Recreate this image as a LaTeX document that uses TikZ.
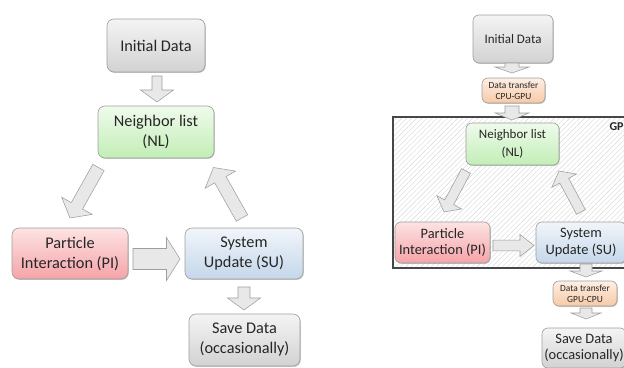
\documentclass[tikz,border=0pt]{standalone}
\usepackage{fontspec}
\setmainfont{Carlito}
\usetikzlibrary{calc,shadows,patterns.meta}
\definecolor{gtop}{HTML}{F4F4F4}\definecolor{gbot}{HTML}{D2D2D2}
\definecolor{ntop}{HTML}{EFFBEC}\definecolor{nbot}{HTML}{C2EEB6}
\definecolor{rtop}{HTML}{FDE3E3}\definecolor{rbot}{HTML}{F5A3A8}
\definecolor{btop}{HTML}{F1F5FA}\definecolor{bbot}{HTML}{C4D7EA}
\definecolor{otop}{HTML}{FDEFE4}\definecolor{obot}{HTML}{F7C9A6}
\definecolor{txt}{HTML}{262626}
\tikzset{
  box/.style={rectangle, rounded corners=7pt, draw=black!38, line width=0.6pt,
    align=center, inner sep=0pt, outer sep=0pt, text=txt,
    drop shadow={shadow xshift=0.8pt, shadow yshift=-0.9pt, opacity=0.22, fill=black}},
  graybox/.style={box, top color=gtop, bottom color=gbot},
  greenbox/.style={box, top color=ntop, bottom color=nbot},
  redbox/.style={box, top color=rtop, bottom color=rbot},
  bluebox/.style={box, top color=btop, bottom color=bbot},
  orangebox/.style={box, rounded corners=6pt, top color=otop, bottom color=obot},
  bigfont/.style={font=\fontsize{16.3}{20}\selectfont},
  midfont/.style={font=\fontsize{14.4}{16.8}\selectfont},
  smallfont/.style={font=\fontsize{13}{17.5}\selectfont},
  tinyfont/.style={font=\fontsize{9.4}{11}\selectfont},
  barrow/.style={fill=black!9, draw=black!38, line width=0.55pt, line join=miter},
  gpuframe/.style={rectangle, draw=black!72, line width=1.3pt,
    preaction={fill=white},
    pattern={Lines[angle=45,distance=3.6pt,line width=0.4pt]}, pattern color=black!15},
}
% #1 tail, #2 tip, #3 shaft half width, #4 head half width, #5 head length
\newcommand\blockarrow[5]{%
  \coordinate (ba-h) at ($(#2)!#5!(#1)$);
  \draw[barrow] ($(#1)!#3!90:(#2)$) -- ($(ba-h)!#3!90:(#2)$) -- ($(ba-h)!#4!90:(#2)$)
    -- (#2) -- ($(ba-h)!#4!-90:(#2)$) -- ($(ba-h)!#3!-90:(#2)$) -- ($(#1)!#3!-90:(#2)$) -- cycle;
}
\begin{document}
\begin{tikzpicture}[x=1pt,y=-1pt]
\useasboundingbox (0,0) rectangle (624,367);

% ---------- left panel ----------
\node[graybox, bigfont, minimum width=98pt, minimum height=53pt] (init) at (156,45.5) {Initial Data};
\node[greenbox, bigfont, minimum width=116pt, minimum height=52pt] (nl) at (156,132) {Neighbor list\\(NL)};
\node[redbox, bigfont, minimum width=116pt, minimum height=51pt] (pi) at (70,253.5) {Particle\\Interaction (PI)};
\node[bluebox, bigfont, minimum width=118pt, minimum height=51pt] (su) at (244,253.5) {System\\Update (SU)};
\node[graybox, bigfont, minimum width=111pt, minimum height=52pt] (save) at (244.5,340) {Save Data\\(occasionally)};

\coordinate (l1a) at ($(init.south)+(1,4)$);
\coordinate (l1b) at ($(nl.north)+(1,-4)$);
\blockarrow{l1a}{l1b}{5pt}{16.5pt}{12pt}
\coordinate (l2a) at ($(nl.south west)+(0.5,9.5)$);
\coordinate (l2b) at ($(pi.north)+(0,-10)$);
\blockarrow{l2a}{l2b}{6.5pt}{17.5pt}{14pt}
\coordinate (l3a) at ($(pi.east)+(5,5.5)$);
\coordinate (l3b) at ($(su.west)+(-5,5.5)$);
\blockarrow{l3a}{l3b}{10.5pt}{21.5pt}{13.5pt}
\coordinate (l4a) at ($(su.north)+(-2,-10)$);
\coordinate (l4b) at ($(nl.south east)+(-0.5,9.5)$);
\blockarrow{l4a}{l4b}{6.5pt}{17.5pt}{14pt}
\coordinate (l5a) at ($(su.south)+(0,8)$);
\coordinate (l5b) at ($(save.north)+(-0.5,-4)$);
\blockarrow{l5a}{l5b}{6pt}{16.5pt}{12pt}

% ---------- right panel ----------
\node[gpuframe, minimum width=250pt, minimum height=151pt] (gpu) at (518,192.5) {};
\node[anchor=west, font=\fontsize{12}{14}\selectfont\bfseries, text=black!85] (gpulabel) at (606,127) {GPU};

\node[graybox, smallfont, rounded corners=6pt, minimum width=80pt, minimum height=48pt] (rinit) at (513,39) {Initial Data};
\node[orangebox, tinyfont, minimum width=63pt, minimum height=25pt] (dt1) at (513.5,90.5) {Data transfer\\CPU-GPU};
\node[greenbox, smallfont, rounded corners=6pt, minimum width=93pt, minimum height=42pt] (rnl) at (512.5,144) {Neighbor list\\(NL)};
\node[redbox, midfont, rounded corners=6pt, minimum width=95pt, minimum height=41pt] (rpi) at (442.5,242.5) {Particle\\Interaction (PI)};
\node[bluebox, midfont, rounded corners=6pt, minimum width=90pt, minimum height=41pt] (rsu) at (581,242.5) {System\\Update (SU)};
\node[orangebox, tinyfont, minimum width=64pt, minimum height=25pt] (dt2) at (585,293.5) {Data transfer\\GPU-CPU};
\node[graybox, midfont, rounded corners=6pt, minimum width=84pt, minimum height=40pt] (rsave) at (584,348) {Save Data\\(occasionally)};

\coordinate (r1a) at ($(rinit.south)+(-1,0)$);
\coordinate (r1b) at ($(dt1.north)+(-1.5,-5)$);
\blockarrow{r1a}{r1b}{7pt}{17pt}{6pt}
\coordinate (r2a) at ($(dt1.south)+(-1.5,3)$);
\coordinate (r2b) at ($(rnl.north)+(-0.5,-3)$);
\blockarrow{r2a}{r2b}{7pt}{17pt}{7pt}
\coordinate (r3a) at ($(rnl.south west)+(0,6)$);
\coordinate (r3b) at ($(rpi.north)+(1.5,-10)$);
\blockarrow{r3a}{r3b}{5pt}{14pt}{11pt}
\coordinate (r4a) at ($(rpi.east)+(3,3)$);
\coordinate (r4b) at ($(rsu.west)+(-2,3)$);
\blockarrow{r4a}{r4b}{5.3pt}{11pt}{14pt}
\coordinate (r5a) at ($(rsu.north)+(0,-10)$);
\coordinate (r5b) at ($(rnl.south east)+(0,6)$);
\blockarrow{r5a}{r5b}{5pt}{14pt}{11pt}
\coordinate (r6a) at ($(rsu.south)+(5,1)$);
\coordinate (r6b) at ($(dt2.north)+(1,-4)$);
\blockarrow{r6a}{r6b}{6pt}{16pt}{6pt}
\coordinate (r7a) at ($(dt2.south)+(1,2)$);
\coordinate (r7b) at ($(rsave.north)+(2,-9)$);
\blockarrow{r7a}{r7b}{6pt}{15pt}{6pt}
\end{tikzpicture}
\end{document}
